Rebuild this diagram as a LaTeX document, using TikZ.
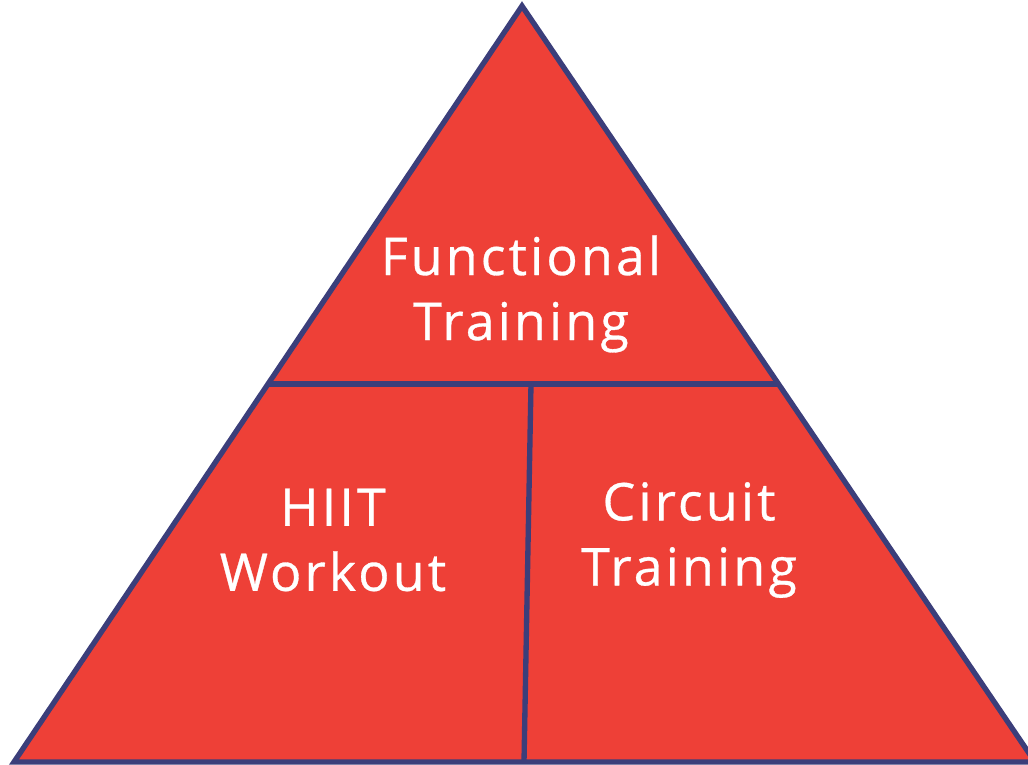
\documentclass[tikz,border=0pt]{standalone}
\usepackage{fontspec}
\setmainfont{Open Sans}[LetterSpace=6, FakeBold=0.6]
\usetikzlibrary{calc}
\definecolor{pyrred}{HTML}{EE4037}
\definecolor{pyrblue}{HTML}{3B3E7A}

\begin{document}
\begin{tikzpicture}[x=0.75pt, y=-0.75pt,
  tierlabel/.style={text=white, align=center, font=\fontsize{39}{48.75}\selectfont}]
\useasboundingbox (0,0) rectangle (1028,764);
\clip (0,0) rectangle (1028,764);

%corners
\coordinate (top) at (522,6);
\coordinate (bl) at (14,762);
\coordinate (br) at (1035,762);

%triangle
\fill[pyrred] (top)--(bl)--(br)--cycle;

%dividers
\coordinate (ml) at ($(top)!0.5!(bl)$);
\coordinate (mr) at ($(top)!0.5!(br)$);
\coordinate (mt) at (531,384);
\coordinate (mb) at (524,762);
\draw[pyrblue, line width=4pt] (ml)--(mr);
\draw[pyrblue, line width=4pt] (mt)--(mb);
\draw[pyrblue, line width=4pt, line join=miter] (top)--(bl)--(br)--cycle;

%labels
\node[tierlabel] (functional) at (521,294) {Functional\\Training};
\node[tierlabel] (hiit) at (333,540) {HIIT\\Workout};
\node[tierlabel] (circuit) at (689,540) {Circuit\\Training};
\end{tikzpicture}
\end{document}
